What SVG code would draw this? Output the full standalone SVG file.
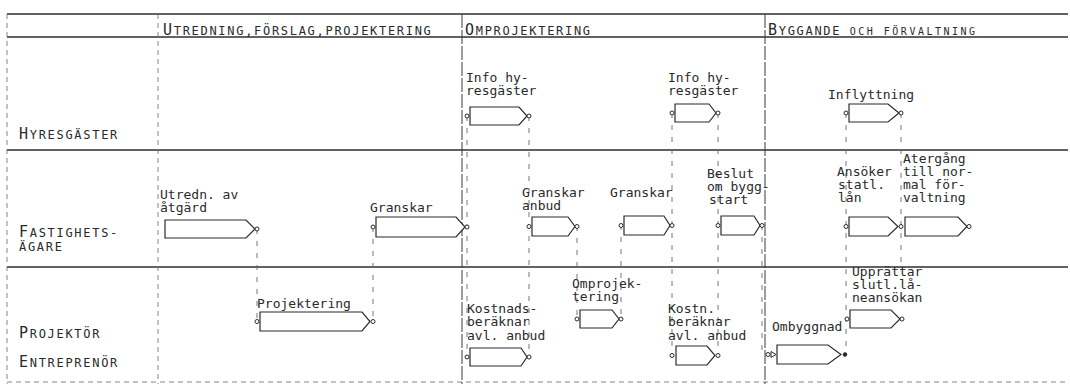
<svg xmlns="http://www.w3.org/2000/svg" width="1070" height="384" viewBox="0 0 1070 384">
<style>
.bg{fill:#ffffff}
.rule{stroke:#2e2e2e;stroke-width:1.4;fill:none}
.phase{stroke:#3a3a3a;stroke-width:1;fill:none;stroke-dasharray:14 2}
.faint{stroke:#777;stroke-width:0.9;fill:none;stroke-dasharray:5 4}
.conn{stroke:#666;stroke-width:0.9;fill:none;stroke-dasharray:5 7}
.box{fill:#ffffff;stroke:#2a2a2a;stroke-width:1.2}
.pin{fill:#ffffff;stroke:#2a2a2a;stroke-width:1}
.dot{fill:#2a2a2a;stroke:#2a2a2a;stroke-width:1}
.t{font-family:"DejaVu Sans Mono","Liberation Mono",monospace;font-size:13px;fill:#2a2a2a}
.sc{font-family:"DejaVu Sans Mono","Liberation Mono",monospace;font-size:12px;letter-spacing:1.7px;fill:#2a2a2a}
.cap{font-size:15px}
.sm{font-size:10px;letter-spacing:2.5px}
</style>
<rect class="bg" x="0" y="0" width="1070" height="384"/>

<g id="grid">
  <line class="rule" x1="7" y1="14" x2="1068" y2="14"/>
  <line class="rule" x1="7" y1="37" x2="1068" y2="37"/>
  <line class="rule" x1="7" y1="150" x2="1068" y2="150"/>
  <line class="rule" x1="7" y1="267" x2="1068" y2="267"/>
  <line class="faint" x1="7" y1="382" x2="1068" y2="382"/>
  <line class="faint" x1="7" y1="14" x2="7" y2="384"/>
  <line class="faint" x1="158" y1="14" x2="158" y2="384"/>
  <line class="phase" x1="462" y1="14" x2="462" y2="384"/>
  <line class="phase" x1="765" y1="14" x2="765" y2="384"/>
</g>

<g id="headers">
  <text class="sc" x="163" y="35"><tspan class="cap">U</tspan>TREDNING,FÖRSLAG,PROJEKTERING</text>
  <text class="sc" x="465" y="35"><tspan class="cap">O</tspan>MPROJEKTERING</text>
  <text class="sc" x="768" y="35"><tspan class="cap">B</tspan>YGGANDE<tspan class="sm"> OCH FÖRVALTNING</tspan></text>
</g>

<g id="lanes">
  <text class="sc" x="19" y="139"><tspan class="cap">H</tspan>YRESGÄSTER</text>
  <text class="sc" x="19" y="237"><tspan class="cap">F</tspan>ASTIGHETS-</text>
  <text class="sc" x="19" y="251">ÄGARE</text>
  <text class="sc" x="19" y="338"><tspan class="cap">P</tspan>ROJEKTÖR</text>
  <text class="sc" x="19" y="367"><tspan class="cap">E</tspan>NTREPRENÖR</text>
</g>

<g id="connectors">
  <line class="conn" x1="257" y1="229" x2="257" y2="321"/>
  <line class="conn" x1="373" y1="227" x2="373" y2="321"/>
  <line class="conn" x1="467" y1="116" x2="467" y2="357"/>
  <line class="conn" x1="529" y1="116" x2="529" y2="357"/>
  <line class="conn" x1="577" y1="226" x2="577" y2="319"/>
  <line class="conn" x1="621" y1="225" x2="621" y2="319"/>
  <line class="conn" x1="672" y1="113" x2="672" y2="355"/>
  <line class="conn" x1="718" y1="113" x2="718" y2="355"/>
  <line class="conn" x1="762" y1="225" x2="762" y2="354"/>
  <line class="conn" x1="846" y1="113" x2="846" y2="354"/>
  <line class="conn" x1="901" y1="113" x2="901" y2="267"/>
</g>

<g id="info1">
  <text class="t" x="466" y="82">Info hy-</text>
  <text class="t" x="466" y="95">resgäster</text>
  <polygon class="box" points="470,107 519,107 527,116 519,125 470,125"/>
  <circle class="pin" cx="467" cy="116" r="2"/>
  <circle class="pin" cx="529" cy="116" r="2"/>
</g>
<g id="info2">
  <text class="t" x="668" y="82">Info hy-</text>
  <text class="t" x="668" y="95">resgäster</text>
  <polygon class="box" points="675,104 709,104 716,113 709,122 675,122"/>
  <circle class="pin" cx="672" cy="113" r="2"/>
  <circle class="pin" cx="718" cy="113" r="2"/>
</g>
<g id="inflyttning">
  <text class="t" x="828" y="99">Inflyttning</text>
  <polygon class="box" points="849,104 888,104 899,113 888,122 849,122"/>
  <circle class="pin" cx="846" cy="113" r="2"/>
  <circle class="pin" cx="901" cy="113" r="2"/>
</g>

<g id="utredn">
  <text class="t" x="160" y="199">Utredn. av</text>
  <text class="t" x="160" y="212">åtgärd</text>
  <polygon class="box" points="165,220 246,220 255,229 246,238 165,238"/>
  <circle class="pin" cx="257" cy="229" r="2"/>
</g>
<g id="granskar1">
  <text class="t" x="370" y="212">Granskar</text>
  <polygon class="box" points="376,217 456,217 465,227 456,237 376,237"/>
  <circle class="pin" cx="373" cy="227" r="2"/>
  <circle class="pin" cx="467" cy="227" r="2"/>
</g>
<g id="granskar-anbud">
  <text class="t" x="522" y="197">Granskar</text>
  <text class="t" x="522" y="210">anbud</text>
  <polygon class="box" points="532,217 568,217 575,226.5 568,236 532,236"/>
  <circle class="pin" cx="529" cy="226.5" r="2"/>
  <circle class="pin" cx="577" cy="226.5" r="2"/>
</g>
<g id="granskar2">
  <text class="t" x="610" y="197">Granskar</text>
  <polygon class="box" points="624,216 664,216 670,225.5 664,235 624,235"/>
  <circle class="pin" cx="621" cy="225.5" r="2"/>
  <circle class="pin" cx="672" cy="225.5" r="2"/>
</g>
<g id="beslut">
  <text class="t" x="707" y="178">Beslut</text>
  <text class="t" x="707" y="191">om bygg-</text>
  <text class="t" x="709" y="204">start</text>
  <polygon class="box" points="721,216 754,216 760,225.5 754,235 721,235"/>
  <circle class="pin" cx="718" cy="225.5" r="2"/>
  <circle class="pin" cx="762" cy="225.5" r="2"/>
</g>
<g id="ansoker">
  <text class="t" x="837" y="176">Ansöker</text>
  <text class="t" x="838" y="189">statl.</text>
  <text class="t" x="838" y="202">lån</text>
  <polygon class="box" points="849,217 888,217 898,226.5 888,236 849,236"/>
  <circle class="pin" cx="846" cy="226.5" r="2"/>
  <circle class="pin" cx="901" cy="226.5" r="2"/>
</g>
<g id="atergang">
  <text class="t" x="903" y="163">Atergång</text>
  <text class="t" x="903" y="176">till nor-</text>
  <text class="t" x="903" y="189">mal för-</text>
  <text class="t" x="903" y="202">valtning</text>
  <polygon class="box" points="905,217 958,217 967,226.5 958,236 905,236"/>
  <circle class="pin" cx="969" cy="226.5" r="2"/>
</g>

<g id="projektering">
  <text class="t" x="257" y="308">Projektering</text>
  <polygon class="box" points="260,312 362,312 370,321.5 362,331 260,331"/>
  <circle class="pin" cx="257" cy="321.5" r="2"/>
  <circle class="pin" cx="373" cy="321.5" r="2"/>
</g>
<g id="kostnads">
  <text class="t" x="467" y="313">Kostnads-</text>
  <text class="t" x="467" y="326">beräknar</text>
  <text class="t" x="467" y="340">avl. anbud</text>
  <polygon class="box" points="470,348 521,348 527,357 521,366 470,366"/>
  <circle class="pin" cx="467" cy="357" r="2"/>
  <circle class="pin" cx="529" cy="357" r="2"/>
</g>
<g id="omprojektering">
  <text class="t" x="572" y="288">Omprojek-</text>
  <text class="t" x="572" y="301">tering</text>
  <polygon class="box" points="580,310 612,310 619,319 612,328 580,328"/>
  <circle class="pin" cx="577" cy="319" r="2"/>
  <circle class="pin" cx="621" cy="319" r="2"/>
</g>
<g id="kostn">
  <text class="t" x="668" y="313">Kostn.</text>
  <text class="t" x="668" y="326">beräknar</text>
  <text class="t" x="668" y="340">avl. anbud</text>
  <polygon class="box" points="676,346 707,346 715,355.5 707,365 676,365"/>
  <circle class="pin" cx="672" cy="355.5" r="2"/>
  <circle class="pin" cx="718" cy="355.5" r="2"/>
</g>
<g id="ombyggnad">
  <text class="t" x="772" y="331">Ombyggnad</text>
  <polygon class="box" points="777,345 828,345 841,354.5 828,364 777,364"/>
  <circle class="pin" cx="768" cy="354.5" r="2"/>
  <polygon class="pin" points="771,351.5 776,354.5 771,357.5"/>
  <circle class="dot" cx="845" cy="354.5" r="1.8"/>
</g>
<g id="upprattar">
  <text class="t" x="852" y="276">Upprättar</text>
  <text class="t" x="852" y="289">slutl.lå-</text>
  <text class="t" x="852" y="302">neansökan</text>
  <polygon class="box" points="850,310 891,310 900,319 891,328 850,328"/>
  <circle class="pin" cx="847" cy="319" r="2"/>
  <circle class="pin" cx="902" cy="319" r="2"/>
</g>
</svg>
